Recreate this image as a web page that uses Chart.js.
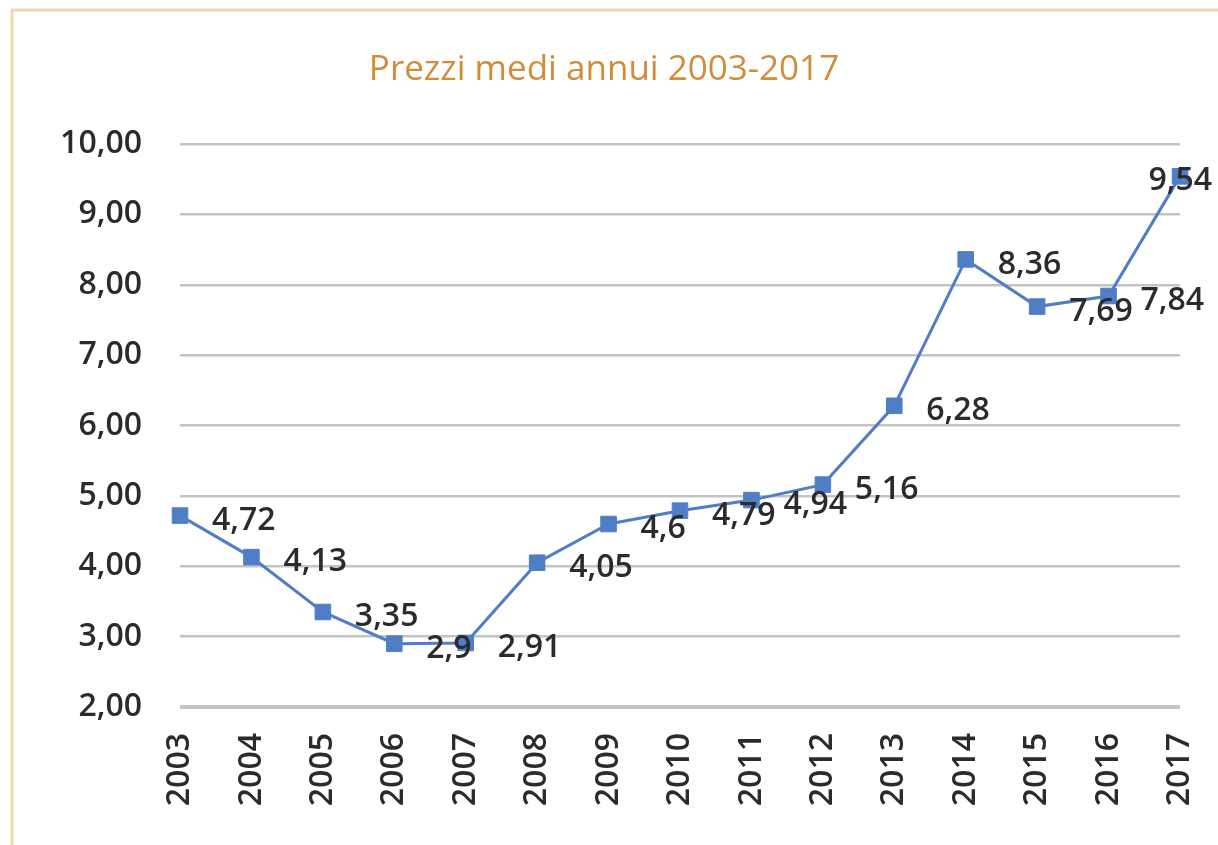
<!DOCTYPE html>
<html>
<head>
<meta charset="utf-8">
<title>Prezzi medi annui 2003-2017</title>
<script src="https://cdn.jsdelivr.net/npm/chart.js"></script>
<style>
    html, body { margin: 0; padding: 0; background: #ffffff; }
    #myChart { display: block; }
</style>
</head>
<body>
<canvas id="myChart" width="1218" height="845"></canvas>
<script>
const title = "Prezzi medi annui 2003-2017"
const years = ["2003", "2004", "2005", "2006", "2007", "2008", "2009", "2010",
               "2011", "2012", "2013", "2014", "2015", "2016", "2017"]
const prices = [4.72, 4.13, 3.35, 2.9, 2.91, 4.05, 4.6, 4.79,
                4.94, 5.16, 6.28, 8.36, 7.69, 7.84, 9.54]
const y_min = 2
const y_max = 10
const y_step = 1

const font_family = "'Open Sans', 'Noto Sans', sans-serif"
const text_color = "#2b2b2b"
const line_color = "#4f7ec6"
const label_weight = "600"

function to_comma(value, decimals){
    let s = (decimals === undefined) ? String(value) : value.toFixed(decimals)
    return s.replace(".", ",")
}

// frame of the original picture (only top and left edges are visible)
const frame_plugin = {
    id: "frame",
    beforeDraw(chart){
        const ctx = chart.ctx
        ctx.save()
        ctx.fillStyle = "#ffffff"
        ctx.fillRect(0, 0, chart.width, chart.height)
        ctx.strokeStyle = "#f2d7b2"
        ctx.lineWidth = 3
        ctx.beginPath()
        ctx.moveTo(12, chart.height)
        ctx.lineTo(12, 10)
        ctx.lineTo(chart.width, 10)
        ctx.stroke()
        ctx.restore()
    }
}

// value labels on the right of every point, pushed back inside when too wide
const value_labels = {
    id: "value_labels",
    afterDatasetsDraw(chart){
        const ctx = chart.ctx
        const meta = chart.getDatasetMeta(0)
        ctx.save()
        ctx.font = label_weight + " 32px " + font_family
        ctx.fillStyle = text_color
        ctx.textAlign = "left"
        ctx.textBaseline = "middle"
        meta.data.forEach((pt, i) => {
            let txt = to_comma(chart.data.datasets[0].data[i])
            let w = ctx.measureText(txt).width
            let x = pt.x + 32
            if(x + w > chart.width - 6)
                x = chart.width - 6 - w
            ctx.fillText(txt, x, pt.y + 5)
        })
        ctx.restore()
    }
}

const ctx = document.getElementById("myChart").getContext("2d")

new Chart(ctx, {
    type: "line",
    data: {
        labels: years,
        datasets: [{
            data: prices,
            borderColor: line_color,
            backgroundColor: line_color,
            borderWidth: 3,
            pointStyle: "rect",
            pointRadius: 11,
            pointBorderWidth: 1,
            pointBackgroundColor: line_color,
            pointBorderColor: line_color,
            tension: 0,
            clip: false
        }]
    },
    plugins: [frame_plugin, value_labels],
    options: {
        responsive: false,
        animation: false,
        devicePixelRatio: 1,
        layout: {
            padding: { left: 0, right: 10, top: 0, bottom: 0 }
        },
        plugins: {
            legend: { display: false },
            tooltip: { enabled: false },
            title: {
                display: true,
                text: title,
                color: "#d18d3a",
                font: { family: font_family, size: 35, weight: "normal", lineHeight: 1.2 },
                padding: { top: 49, bottom: 53 }
            }
        },
        scales: {
            x: {
                offset: false,
                grid: { display: false, drawTicks: false },
                border: { display: false },
                ticks: {
                    color: text_color,
                    font: { family: font_family, size: 32, weight: label_weight },
                    minRotation: 90,
                    maxRotation: 90,
                    autoSkip: false,
                    padding: 26
                },
                afterFit(scale){
                    scale.height = 138
                    scale.paddingLeft = 0
                    scale.paddingRight = 38
                }
            },
            y: {
                min: y_min,
                max: y_max,
                grid: {
                    color: "#c4c4c4",
                    lineWidth: (c) => (c.tick && c.tick.value === y_min) ? 4 : 2.5,
                    drawTicks: false
                },
                border: { display: false },
                ticks: {
                    stepSize: y_step,
                    color: text_color,
                    font: { family: font_family, size: 32, weight: label_weight },
                    padding: 38,
                    callback: (v) => to_comma(v, 2)
                },
                afterFit(scale){
                    scale.width = 180
                }
            }
        }
    }
})
</script>
</body>
</html>
